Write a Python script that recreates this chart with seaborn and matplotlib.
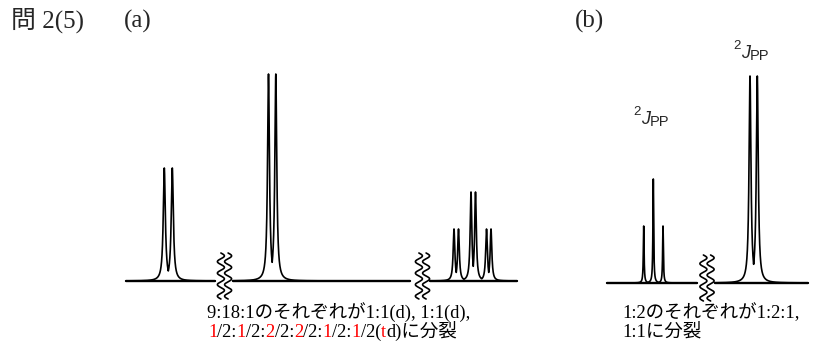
import numpy as np
import pandas as pd
import matplotlib
matplotlib.use("Agg")
import matplotlib.pyplot as plt
import seaborn as sns

# ---------------- data ----------------
# panel (a): line positions, line intensities, line half-widths
a_line_pos = [164.3, 172.3, 268.5, 275.8, 454.0, 458.5, 471.0, 475.5, 486.5, 491.0]
a_line_height = [113, 113, 207, 207, 52, 52, 89, 89, 52, 52]
a_line_hw = [1.25, 1.25, 1.15, 1.15, 1.0, 1.0, 1.0, 1.0, 1.0, 1.0]
a_segments = [(126, 215), (233, 410), (430, 517)]
a_breaks = [224.5, 422.5]

# panel (b)
b_line_pos = [643.7, 653.3, 663.0, 750.0, 757.3]
b_line_height = [57, 104, 57, 207, 207]
b_line_hw = [0.45, 0.45, 0.45, 1.15, 1.15]
b_segments = [(607, 697), (715, 808)]
b_breaks = [707.0]

# texts
title_text = "問 2(5)"
panel_labels = ["(a)", "(b)"]
a_caption1 = [("9:18:1のそれぞれが1:1(d), 1:1(d),", "black")]
a_caption2 = [("1", "red"), ("/2:", "black"), ("1", "red"), ("/2:", "black"),
              ("2", "red"), ("/2:", "black"), ("2", "red"), ("/2:", "black"),
              ("1", "red"), ("/2:", "black"), ("1", "red"), ("/2(", "black"),
              ("t", "red"), ("d)に分裂", "black")]
b_caption1 = [("1:2のそれぞれが1:2:1,", "black")]
b_caption2 = [("1:1に分裂", "black")]

# ---------------- figure ----------------
sns.set_theme(style="white")
plt.rcParams["font.family"] = ["Liberation Serif", "Noto Sans CJK JP"]

W, H = 818, 360
fig = plt.figure(figsize=(W / 100, H / 100), dpi=100)
ax = fig.add_axes([0, 0, 1, 1])


def spectrum_frame(pos, height, hw, segments, base):
    rows = []
    for k, (lo, hi) in enumerate(segments):
        x = np.arange(lo, hi + 0.01, 0.05)
        inten = np.zeros_like(x)
        for p, h, w in zip(pos, height, hw):
            inten = np.maximum(inten, h * w ** 2 / ((x - p) ** 2 + w ** 2))
        rows.append(pd.DataFrame({"x": x, "y": base - inten, "seg": k}))
    return pd.concat(rows, ignore_index=True)


def baseline_frame(segments, base):
    rows = []
    for k, (lo, hi) in enumerate(segments):
        rows.append(pd.DataFrame({"x": [lo, hi], "y": [base, base], "seg": k}))
    return pd.concat(rows, ignore_index=True)


def wiggle_frame(xc, top, bottom):
    t = np.linspace(0, 1, 400)
    y = top + t * (bottom - top)
    rows = []
    for k, off in enumerate([-3.6, 3.6]):
        x = xc + off + 3.5 * np.sin(2 * np.pi * 4 * t)
        rows.append(pd.DataFrame({"x": x, "y": y, "seg": k}))
    return pd.concat(rows, ignore_index=True)


base_a, base_b = 281, 283
for pos, hgt, hw, segs, base, brks in [
    (a_line_pos, a_line_height, a_line_hw, a_segments, base_a, a_breaks),
    (b_line_pos, b_line_height, b_line_hw, b_segments, base_b, b_breaks),
]:
    sns.lineplot(data=baseline_frame(segs, base), x="x", y="y", units="seg",
                 estimator=None, sort=False, color="black", lw=1.7, ax=ax)
    sns.lineplot(data=spectrum_frame(pos, hgt, hw, segs, base), x="x", y="y",
                 units="seg", estimator=None, sort=False, color="black",
                 lw=1.2, ax=ax)
    for xc in brks:
        sns.lineplot(data=wiggle_frame(xc, base - 28, base + 18), x="x", y="y",
                     units="seg", estimator=None, sort=False, color="black",
                     lw=1.2, ax=ax)

ax.set_xlim(0, W)
ax.set_ylim(H, 0)
ax.axis("off")

renderer = fig.canvas.get_renderer()


def seq_text(x, y, parts, size, family=None):
    for s, c in parts:
        kw = dict(fontsize=size, color=c, va="baseline", ha="left")
        if family is not None:
            kw["family"] = family
        t = ax.text(x, y, s, **kw)
        x += t.get_window_extent(renderer).width


fam = ["Liberation Serif", "Noto Sans CJK JP"]
ax.text(11, 28, title_text, fontsize=18, family=fam, va="baseline")
ax.text(124, 28, panel_labels[0], fontsize=18, family=fam, va="baseline")
ax.text(575, 28, panel_labels[1], fontsize=18, family=fam, va="baseline")

seq_text(207, 318, a_caption1, 13.3, fam)
seq_text(208, 337, a_caption2, 13.3, fam)
seq_text(622, 318, b_caption1, 13.3, fam)
seq_text(622, 337, b_caption2, 13.3, fam)


def jpp(x0, yb):
    ax.text(x0, yb - 9, "2", fontsize=9.5, family="Liberation Sans", va="baseline")
    ax.text(x0 + 8.5, yb, "J", fontsize=13, family="Liberation Sans",
            style="italic", va="baseline")
    ax.text(x0 + 16.5, yb + 1.5, "PP", fontsize=10.5, family="Liberation Sans",
            va="baseline")


jpp(633, 124)
jpp(733, 58.3)

fig.savefig("out.png", dpi=100)
